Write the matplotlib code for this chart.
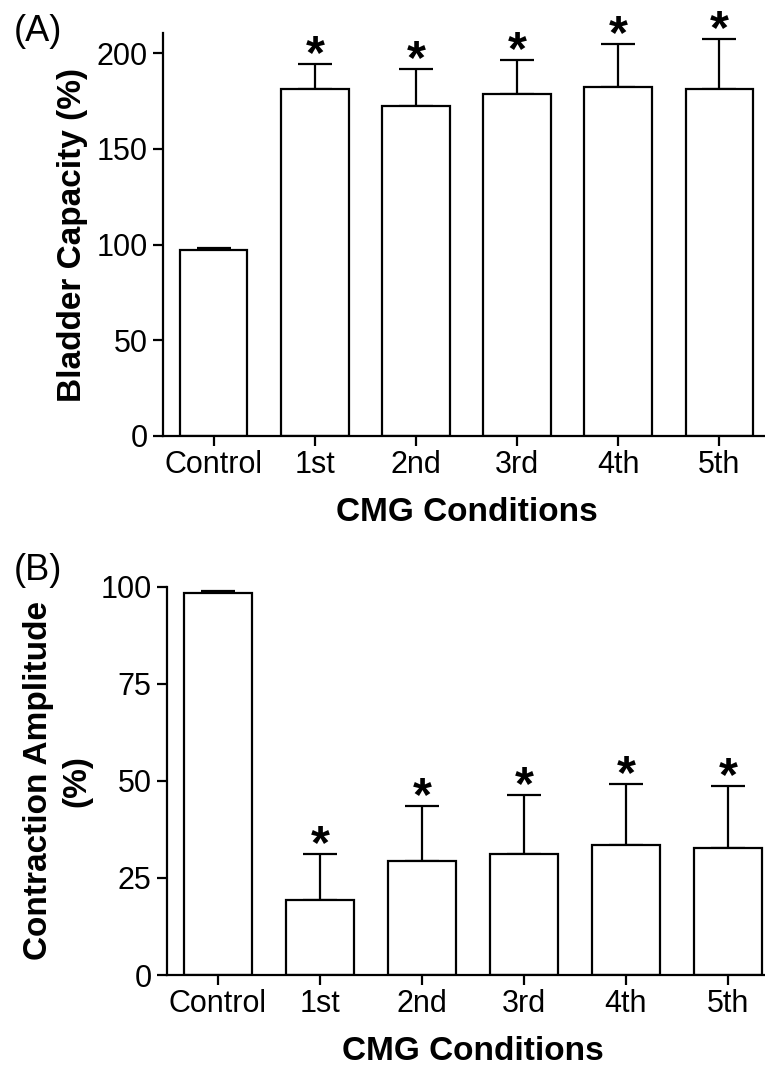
import matplotlib
matplotlib.use('Agg')
import matplotlib.pyplot as plt
import numpy as np

plt.rcParams['font.family'] = ['Liberation Sans', 'DejaVu Sans']

# data
conditions = ['Control', '1st', '2nd', '3rd', '4th', '5th']

capacity_mean = [97.2, 181.2, 172.5, 178.6, 182.1, 181.2]
capacity_sem = [0.8, 13.3, 19.2, 17.9, 22.8, 26.2]

amplitude_mean = [98.3, 19.3, 29.4, 31.2, 33.5, 32.8]
amplitude_sem = [0.6, 11.9, 14.2, 15.2, 15.7, 15.9]

significant = [False, True, True, True, True, True]


def draw_panel(ax, means, sems, ylim, yticks, ylabel):
    x = np.arange(len(conditions))
    ax.bar(x, means, width=0.67, color='white', edgecolor='black',
           linewidth=1.6, zorder=2)
    ax.errorbar(x, means, yerr=[np.zeros(len(sems)), sems], fmt='none',
                ecolor='black', elinewidth=1.6, capsize=12, capthick=1.6,
                zorder=1)

    # significance stars
    for xi, m, s, sig in zip(x, means, sems, significant):
        if sig:
            ax.annotate('*', (xi, m + s), xytext=(0, -3),
                        textcoords='offset points', ha='center',
                        va='baseline', fontsize=35, fontweight='bold')

    ax.set_xlim(-0.5, 5.5)
    ax.set_ylim(*ylim)
    ax.set_yticks(yticks)
    ax.set_xticks(x)
    ax.set_xticklabels(conditions)
    ax.tick_params(axis='both', labelsize=22, width=1.6, length=7,
                   direction='out')
    ax.tick_params(axis='x', pad=3)
    ax.tick_params(axis='y', pad=4)
    for side in ['top', 'right']:
        ax.spines[side].set_visible(False)
    for side in ['left', 'bottom']:
        ax.spines[side].set_linewidth(1.6)
    ax.set_xlabel('CMG Conditions', fontsize=24, fontweight='bold', labelpad=12)
    ax.set_ylabel(ylabel, fontsize=24, fontweight='bold', labelpad=6,
                  linespacing=1.3)


fig = plt.figure(figsize=(7.65, 10.87), dpi=100)

ax1 = fig.add_axes([0.2131, 0.5989, 0.7935, 0.3707])
draw_panel(ax1, capacity_mean, capacity_sem, (0, 210.5),
           [0, 50, 100, 150, 200], 'Bladder Capacity (%)')

ax2 = fig.add_axes([0.2183, 0.1030, 0.8, 0.3572])
draw_panel(ax2, amplitude_mean, amplitude_sem, (0, 100),
           [0, 25, 50, 75, 100], 'Contraction Amplitude\n(%)')

# panel tags
fig.text(0.018, 0.9623, '(A)', fontsize=26, ha='left', va='baseline')
fig.text(0.018, 0.4664, '(B)', fontsize=26, ha='left', va='baseline')

plt.savefig('out.png', dpi=100)
plt.close()
